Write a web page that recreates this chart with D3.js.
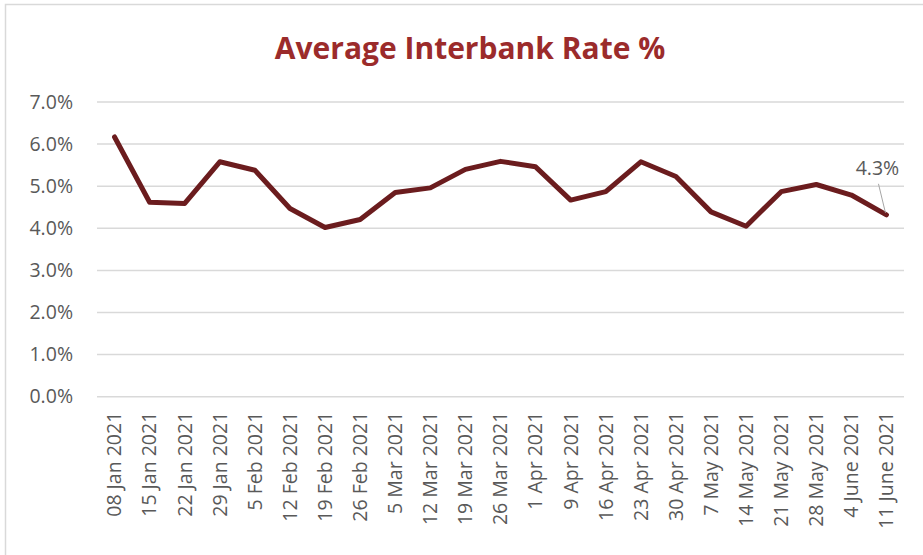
<!DOCTYPE html>
<html><head><meta charset="utf-8">
<script src="https://cdn.jsdelivr.net/npm/d3@7"></script>
<style>body{margin:0;background:#fff}svg{display:block}</style>
</head><body>
<svg id="c" width="923" height="555"></svg>
<script>
const categories = ["08 Jan 2021","15 Jan 2021","22 Jan 2021","29 Jan 2021","5 Feb 2021","12 Feb 2021","19 Feb 2021","26 Feb 2021","5 Mar 2021","12 Mar 2021","19 Mar 2021","26 Mar 2021","1 Apr 2021","9 Apr 2021","16 Apr 2021","23 Apr 2021","30 Apr 2021","7 May 2021","14 May 2021","21 May 2021","28 May 2021","4 June 2021","11 June 2021"];
const rates = [6.17,4.62,4.59,5.58,5.38,4.47,4.02,4.21,4.85,4.96,5.40,5.59,5.46,4.67,4.87,5.58,5.23,4.39,4.05,4.87,5.04,4.79,4.32];
const yTicks = [0,1,2,3,4,5,6,7];
const title = "Average Interbank Rate %";
const lastLabel = "4.3%";

const svg = d3.select("#c");
const font = "'Open Sans', sans-serif";
svg.append("rect").attr("x",5.5).attr("y",4.5).attr("width",930).attr("height",560)
  .attr("fill","#fff").attr("stroke","#d9d9d9").attr("stroke-width",1.5);

const x = d3.scaleBand().domain(categories).range([97,904]);
const y = d3.scaleLinear().domain([0,7]).range([396.7,102]);

svg.append("g").selectAll("line").data(yTicks).join("line")
  .attr("x1",97).attr("x2",904).attr("y1",d=>y(d)).attr("y2",d=>y(d))
  .attr("stroke","#d9d9d9").attr("stroke-width",1.5);

const yAxis = d3.axisLeft(y).tickValues(yTicks).tickFormat(d=>d.toFixed(1)+"%").tickSize(0).tickPadding(24);
svg.append("g").attr("transform","translate(97,0)").call(yAxis)
  .call(a=>a.select(".domain").remove())
  .selectAll("text").attr("fill","#595959").attr("font-size","19.5px").attr("font-family",font);

const xAxis = d3.axisBottom(x).tickSize(0);
svg.append("g").attr("transform","translate(0,396.7)").call(xAxis)
  .call(a=>a.select(".domain").remove())
  .selectAll("text").attr("fill","#595959").attr("font-size","19.5px").attr("font-family",font)
  .attr("text-anchor","end").attr("dy","0.35em")
  .attr("transform","translate(0,15) rotate(-90)").attr("x",0).attr("y",0);

const line = d3.line().x((d,i)=>x(categories[i])+x.bandwidth()/2).y(d=>y(d));
svg.append("path").datum(rates).attr("d",line).attr("fill","none")
  .attr("stroke","#6b1c1e").attr("stroke-width",5).attr("stroke-linejoin","round").attr("stroke-linecap","round");

const lx = x(categories[categories.length-1])+x.bandwidth()/2, ly = y(rates[rates.length-1]);
svg.append("line").attr("x1",lx-1).attr("y1",ly-2).attr("x2",lx-8).attr("y2",ly-31)
  .attr("stroke","#a6a6a6").attr("stroke-width",1);
svg.append("text").attr("x",lx-9).attr("y",ly-40).attr("text-anchor","middle")
  .attr("fill","#595959").attr("font-size","19.5px").attr("font-family",font).text(lastLabel);

svg.append("text").attr("x",470).attr("y",59).attr("text-anchor","middle")
  .attr("fill","#9b2b2b").attr("font-weight","bold").attr("font-size","30px").attr("font-family",font)
  .text(title);
</script>
</body></html>
